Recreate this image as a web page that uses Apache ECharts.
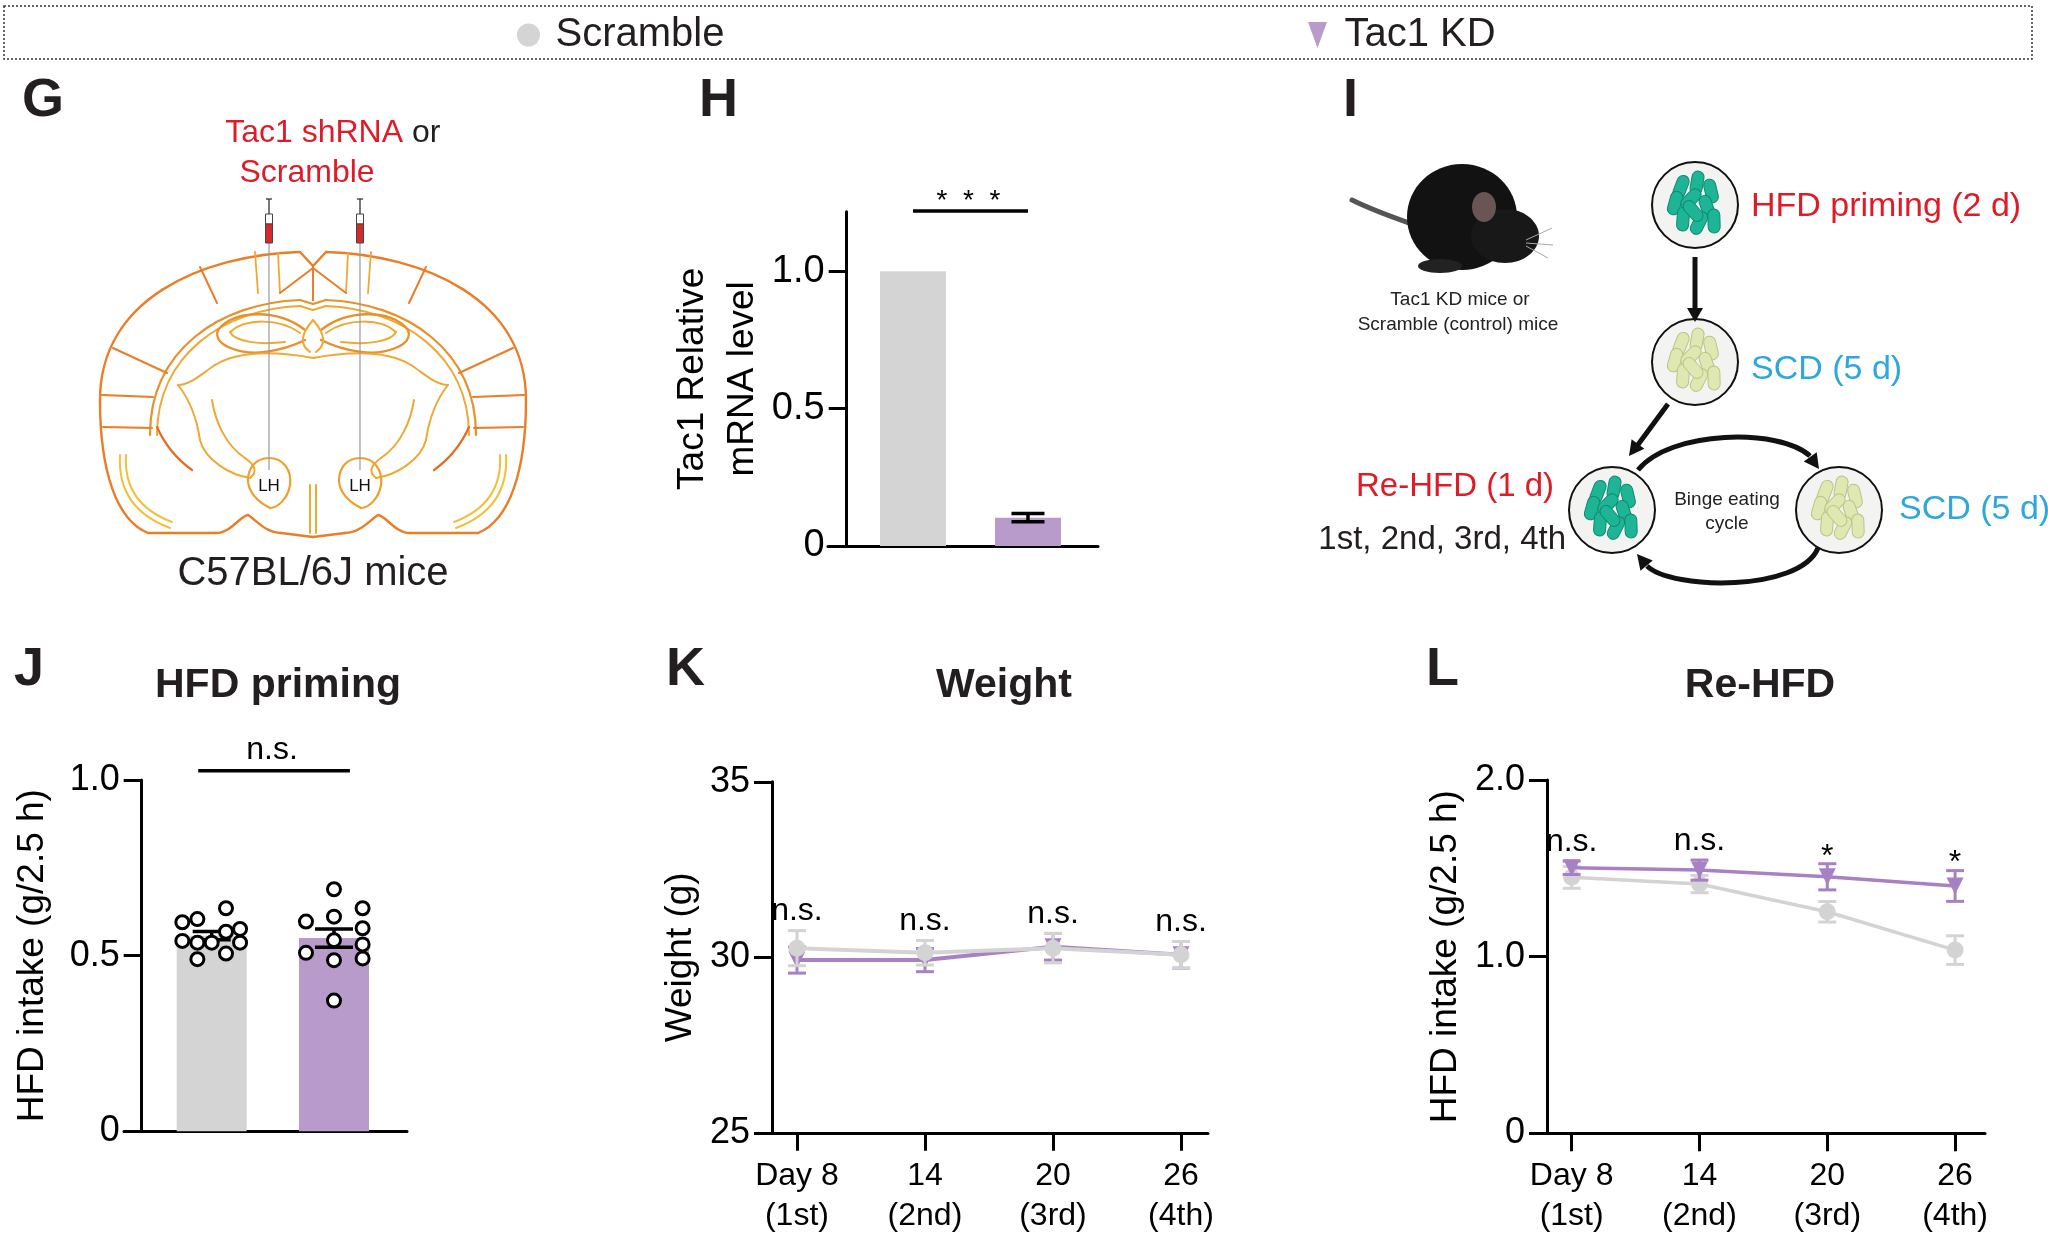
<!DOCTYPE html>
<html>
<head>
<meta charset="utf-8">
<script src="https://cdn.jsdelivr.net/npm/echarts@6/dist/echarts.min.js"></script>
<style>
html,body{margin:0;padding:0;background:#fff;}
#chart{width:2048px;height:1238px;}
</style>
</head>
<body>
<div id="chart"></div>
<script>
// ---------------- DATA ----------------
const groups = ['Scramble', 'Tac1 KD'];

// Panel H: Tac1 relative mRNA level
const hMean = [1.0, 0.103];
const hSem = [0, 0.015];
const hTicks = [0, 0.5, 1.0];
const hSig = '*  *  *';

// Panel J: HFD priming intake (g/2.5 h)
const jMean = [0.557, 0.55];
const jSem = [0.012, 0.026];
const jScrambleDots = [0.595, 0.604, 0.635, 0.542, 0.537, 0.537, 0.568, 0.576, 0.537, 0.490, 0.506];
const jScrambleJitter = [-0.24, -0.117, 0.117, -0.24, -0.117, 0, 0.117, 0.232, 0.232, -0.117, 0.117];
const jKDDots = [0.689, 0.597, 0.611, 0.635, 0.578, 0.544, 0.532, 0.508, 0.487, 0.492, 0.372];
const jKDJitter = [0, -0.229, 0, 0.234, 0.234, 0, 0.234, -0.229, 0, 0.234, 0];
const jTicks = [0, 0.5, 1.0];
const jSig = 'n.s.';

// Panels K / L: time course
const dayLabels = ['Day 8\n(1st)', '14\n(2nd)', '20\n(3rd)', '26\n(4th)'];
const kScramble = [30.26, 30.13, 30.26, 30.07];
const kScrambleSem = [0.5, 0.35, 0.42, 0.38];
const kKD = [29.92, 29.92, 30.30, 30.07];
const kKDSem = [0.37, 0.33, 0.38, 0.38];
const kTicks = [25, 30, 35];
const kSig = ['n.s.', 'n.s.', 'n.s.', 'n.s.'];

const lScramble = [1.449, 1.411, 1.254, 1.037];
const lScrambleSem = [0.062, 0.049, 0.058, 0.081];
const lKD = [1.503, 1.49, 1.452, 1.40];
const lKDSem = [0.038, 0.057, 0.074, 0.087];
const lTicks = [0, 1.0, 2.0];
const lSig = ['n.s.', 'n.s.', '*', '*'];

// ---------------- STYLE ----------------
const FONT = "'Liberation Sans', Arial, Helvetica, sans-serif";
const C_GRAY = '#d4d4d4';
const C_PURPLE = '#b89bcb';
const C_GRAY_LINE = '#d3d3d3';
const C_PURPLE_LINE = '#a880c4';
const C_TEXT = '#231f20';
const C_RED = '#de1c28';
const C_BLUE = '#2ea7dc';

const chart = echarts.init(document.getElementById('chart'), null, {renderer: 'canvas', width: 2048, height: 1238});

function fmt1(v) { return v === 0 ? '0' : v.toFixed(1); }
function fmtInt(v) { return String(v); }

function makeY(gi, min, max, ticks, fmt, name, nameGap, offset, fontSize, nameLH) {
  return {
    type: 'value', gridIndex: gi, min: min, max: max, offset: offset,
    axisLine: {show: true, onZero: false, lineStyle: {color: '#000', width: 3}},
    axisTick: {show: true, length: 18, customValues: ticks, lineStyle: {color: '#000', width: 3}},
    axisLabel: {customValues: ticks, formatter: fmt, fontSize: fontSize, color: '#000', fontFamily: FONT, margin: 22},
    splitLine: {show: false},
    name: name, nameLocation: 'middle', nameGap: nameGap,
    nameTextStyle: {fontSize: 37, color: '#000', fontFamily: FONT, lineHeight: nameLH}
  };
}
function makeX(gi, min, max, withTicks) {
  return {
    type: 'value', gridIndex: gi, min: min, max: max,
    axisLine: {show: true, onZero: false, lineStyle: {color: '#000', width: 3}},
    axisTick: withTicks ? {show: true, length: 18, customValues: [0, 1, 2, 3], lineStyle: {color: '#000', width: 3}} : {show: false},
    axisLabel: withTicks ? {customValues: [0, 1, 2, 3], formatter: function (v) { return dayLabels[Math.round(v)]; },
      fontSize: 32, lineHeight: 40, color: '#000', fontFamily: FONT, margin: 23} : {show: false},
    splitLine: {show: false}
  };
}

function errorBars(cap, lw, color) {
  return function (params, api) {
    const x = api.value(0), m = api.value(1), s = api.value(2);
    const p1 = api.coord([x, m + s]), p2 = api.coord([x, m - s]);
    const st = {stroke: color, lineWidth: lw};
    return {type: 'group', children: [
      {type: 'line', shape: {x1: p1[0], y1: p1[1], x2: p2[0], y2: p2[1]}, style: st},
      {type: 'line', shape: {x1: p1[0] - cap / 2, y1: p1[1], x2: p1[0] + cap / 2, y2: p1[1]}, style: st},
      {type: 'line', shape: {x1: p2[0] - cap / 2, y1: p2[1], x2: p2[0] + cap / 2, y2: p2[1]}, style: st}
    ]};
  };
}
function sigLabels(texts) {
  return function (params, api) {
    const p = api.coord([api.value(0), api.value(1)]);
    const t = texts[params.dataIndex];
    const star = t.indexOf('n') < 0;
    return {type: 'text', x: p[0], y: p[1] + (star ? 9 : -3),
      style: {text: t, fill: '#000', font: '32px ' + FONT, align: 'center', verticalAlign: 'bottom',
        textAlign: 'center', textVerticalAlign: 'bottom'}};
  };
}
function sigBracket(texts, fontSize, textGap) {
  return function (params, api) {
    const a = api.coord([api.value(0), api.value(2)]);
    const b = api.coord([api.value(1), api.value(2)]);
    return {type: 'group', children: [
      {type: 'line', shape: {x1: a[0], y1: a[1], x2: b[0], y2: a[1]}, style: {stroke: '#000', lineWidth: 3.5}},
      {type: 'text', x: (a[0] + b[0]) / 2 - 2, y: a[1] - textGap,
        style: {text: texts[params.dataIndex], fill: '#000', font: fontSize + 'px ' + FONT,
          align: 'center', verticalAlign: 'bottom', textAlign: 'center', textVerticalAlign: 'bottom'}}
    ]};
  };
}

// ---------------- GRAPHICS (diagram panels) ----------------
function txt(x, y, text, font, fill, align, vAlign) {
  return {type: 'text', x: x, y: y, silent: true, z: 20,
    style: {text: text, font: font, fill: fill || C_TEXT, align: align || 'center', verticalAlign: vAlign || 'middle',
      textAlign: align || 'center', textVerticalAlign: vAlign || 'middle'}};
}
// tiny path-string -> line / bezierCurve elements (graphic component has no 'path' element)
function pth(d, stroke, w) {
  const toks = d.match(/[MLCZ]|-?\d+(?:\.\d+)?/g);
  const st = {stroke: stroke, lineWidth: w || 2.2, fill: 'none', lineCap: 'round'};
  const kids = [];
  let i = 0, cx = 0, cy = 0, sx = 0, sy = 0, cmd = null;
  while (i < toks.length) {
    const t = toks[i];
    if (/^[MLCZ]$/.test(t)) {
      cmd = t; i++;
      if (cmd === 'Z') { kids.push({type: 'line', silent: true, shape: {x1: cx, y1: cy, x2: sx, y2: sy}, style: st}); cx = sx; cy = sy; }
      continue;
    }
    if (cmd === 'M') { cx = +toks[i]; cy = +toks[i + 1]; sx = cx; sy = cy; i += 2; cmd = 'L'; }
    else if (cmd === 'L') {
      const x = +toks[i], y = +toks[i + 1];
      kids.push({type: 'line', silent: true, shape: {x1: cx, y1: cy, x2: x, y2: y}, style: st});
      cx = x; cy = y; i += 2;
    } else if (cmd === 'C') {
      const v = toks.slice(i, i + 6).map(Number);
      kids.push({type: 'bezierCurve', silent: true, shape: {x1: cx, y1: cy, cpx1: v[0], cpy1: v[1], cpx2: v[2], cpy2: v[3], x2: v[4], y2: v[5]}, style: st});
      cx = v[4]; cy = v[5]; i += 6;
    } else { i++; }
  }
  return {type: 'group', silent: true, children: kids};
}
function brainHalf() {
  const outer = '#eb7d26', inner = '#efa833', deep = '#e8902a';
  return [
    pth('M313,266 L300,252 C200,255 100,300 100,400 C100,470 116,520 148,533 L216,533 C231,533 241,515 248,515 C256,520 266,533 281,533 L313,537', outer, 2.4),
    pth('M313,304 L300,300 C220,303 150,350 150,435', deep, 2.2),
    pth('M313,310 L300,306 C224,309 157,355 157,435', inner, 2),
    pth('M200,267 L217,303', outer, 2), pth('M113,348 L167,373', outer, 2),
    pth('M102,395 L153,397', outer, 2), pth('M103,427 L152,428', outer, 2),
    pth('M255,252 L258,293', inner, 1.8), pth('M278,253 L280,293', inner, 1.8),
    pth('M280,293 L313,268 L313,300', outer, 2),
    pth('M305,330 C280,310 235,308 218,330 C212,345 240,355 265,352 C280,350 295,345 305,340', deep, 2.4),
    pth('M300,333 C280,318 245,318 230,332 C235,342 260,345 285,342', inner, 2),
    pth('M313,320 C300,335 300,345 310,352', inner, 2),
    pth('M313,358 C280,352 240,350 215,365 C200,375 190,385 178,385', inner, 2),
    pth('M178,385 C190,400 197,420 200,440 C205,460 230,475 250,478 C258,472 255,465 245,458 C225,445 215,420 212,400', inner, 2),
    pth('M120,455 C118,490 135,515 170,528', '#f0c03a', 2), pth('M126,455 C124,488 140,510 172,522', '#f0c03a', 2),
    pth('M157,427 C165,445 178,460 192,470', '#e86a1e', 2.2),
    pth('M310,485 L310,533', inner, 2)
  ];
}
function lhShape(cx) {
  const d = 'M' + cx + ',458 C' + (cx + 14) + ',458 ' + (cx + 23) + ',470 ' + (cx + 21) + ',485 C' + (cx + 19) + ',498 ' + (cx + 9) + ',508 ' + (cx + 1) + ',508 C' + (cx - 11) + ',502 ' + (cx - 21) + ',492 ' + (cx - 21) + ',480 C' + (cx - 21) + ',468 ' + (cx - 13) + ',458 ' + cx + ',458';
  return pth(d, '#eca030', 2.2);
}
function needle(x) {
  return [
    {type: 'line', silent: true, shape: {x1: x, y1: 243, x2: x, y2: 470}, style: {stroke: '#9a9a9a', lineWidth: 1.2}},
    {type: 'rect', silent: true, shape: {x: x - 3.5, y: 214, width: 7, height: 10}, style: {fill: '#fff', stroke: '#444', lineWidth: 1}},
    {type: 'rect', silent: true, shape: {x: x - 3.5, y: 224, width: 7, height: 19}, style: {fill: '#d42a2e', stroke: '#444', lineWidth: 1}},
    {type: 'line', silent: true, shape: {x1: x, y1: 199, x2: x, y2: 214}, style: {stroke: '#333', lineWidth: 1.3}},
    {type: 'line', silent: true, shape: {x1: x - 3, y1: 199, x2: x + 3, y2: 199}, style: {stroke: '#333', lineWidth: 1.3}}
  ];
}
const pelletLayout = [[-14, -18, 1.2], [2, -22, 1.4], [16, -14, 1.8], [-20, -2, 1.3], [-4, -6, 0.8], [12, 2, 1.9], [-12, 14, 1.5], [4, 18, 1.1], [19, 16, 1.6], [-2, 6, 2.3]];
function plate(cx, cy, color, edge) {
  const kids = [{type: 'circle', silent: true, shape: {cx: 0, cy: 0, r: 43}, style: {fill: '#f3f3f1', stroke: '#111', lineWidth: 2}}];
  pelletLayout.forEach(function (p) {
    kids.push({type: 'rect', silent: true, x: p[0], y: p[1], rotation: p[2],
      shape: {x: -12, y: -6, width: 24, height: 12, r: 6}, style: {fill: color, stroke: edge, lineWidth: 1}});
  });
  return {type: 'group', x: cx, y: cy, children: kids};
}
function arrowHead(tx, ty, fx, fy, len, wid) {
  const dx = tx - fx, dy = ty - fy, d = Math.hypot(dx, dy);
  const ux = dx / d, uy = dy / d;
  const bx = tx - ux * len, by = ty - uy * len;
  return {type: 'polygon', silent: true, shape: {points: [[tx, ty], [bx - uy * wid / 2, by + ux * wid / 2], [bx + uy * wid / 2, by - ux * wid / 2]]}, style: {fill: '#111'}};
}

const BOLD_L = 'bold 54px ' + FONT;
const BOLD_T = 'bold 41px ' + FONT;

const graphics = [
  {type: 'rect', silent: true, shape: {x: 4, y: 6, width: 2028, height: 53}, style: {fill: 'none', stroke: '#333', lineWidth: 1.5, lineDash: [2, 2]}},
  txt(22, 101, 'G', BOLD_L, C_TEXT, 'left'), txt(699, 101, 'H', BOLD_L, C_TEXT, 'left'), txt(1343, 101, 'I', BOLD_L, C_TEXT, 'left'),
  txt(14, 670, 'J', BOLD_L, C_TEXT, 'left'), txt(666, 670, 'K', BOLD_L, C_TEXT, 'left'), txt(1426, 670, 'L', BOLD_L, C_TEXT, 'left'),
  txt(278, 686, 'HFD priming', BOLD_T), txt(1004, 686, 'Weight', BOLD_T), txt(1760, 686, 'Re-HFD', BOLD_T),
  {type: 'group', silent: true, children: brainHalf()},
  {type: 'group', silent: true, x: 626, scaleX: -1, children: brainHalf()},
  lhShape(269), lhShape(360)
].concat(needle(269), needle(360), [
  txt(269, 486, 'LH', '17px ' + FONT, '#111'), txt(360, 486, 'LH', '17px ' + FONT, '#111'),
  txt(403, 133, 'Tac1 shRNA', '32px ' + FONT, C_RED, 'right'),
  txt(412, 133, 'or', '32px ' + FONT, C_TEXT, 'left'),
  txt(307, 173, 'Scramble', '32px ' + FONT, C_RED),
  txt(313, 574, 'C57BL/6J mice', '40px ' + FONT, C_TEXT),
  // mouse
  pth('M1412,224 C1395,218 1372,210 1352,200', '#555', 5),
  {type: 'ellipse', silent: true, shape: {cx: 1462, cy: 217, rx: 55, ry: 53}, style: {fill: '#121212'}},
  {type: 'ellipse', silent: true, shape: {cx: 1505, cy: 236, rx: 34, ry: 27}, style: {fill: '#181818'}},
  {type: 'ellipse', silent: true, shape: {cx: 1484, cy: 207, rx: 12, ry: 15}, style: {fill: '#6a5555'}},
  {type: 'ellipse', silent: true, shape: {cx: 1440, cy: 266, rx: 22, ry: 7}, style: {fill: '#222'}},
  {type: 'line', silent: true, shape: {x1: 1526, y1: 240, x2: 1552, y2: 228}, style: {stroke: '#aaa', lineWidth: 1}},
  {type: 'line', silent: true, shape: {x1: 1526, y1: 243, x2: 1553, y2: 245}, style: {stroke: '#aaa', lineWidth: 1}},
  {type: 'line', silent: true, shape: {x1: 1526, y1: 246, x2: 1548, y2: 258}, style: {stroke: '#aaa', lineWidth: 1}},
  txt(1460, 300, 'Tac1 KD mice or', '19px ' + FONT, '#222'),
  txt(1458, 325, 'Scramble (control) mice', '19px ' + FONT, '#222'),
  plate(1695, 205, '#1db596', '#0e8a70'),
  plate(1695, 362, '#dfe8b0', '#b8c48a'),
  plate(1612, 510, '#1db596', '#0e8a70'),
  plate(1839, 510, '#dfe8b0', '#b8c48a'),
  {type: 'line', silent: true, shape: {x1: 1695, y1: 257, x2: 1695, y2: 310}, style: {stroke: '#111', lineWidth: 5}},
  arrowHead(1695, 322, 1695, 300, 14, 16),
  {type: 'line', silent: true, shape: {x1: 1668, y1: 404, x2: 1637, y2: 446}, style: {stroke: '#111', lineWidth: 5}},
  arrowHead(1629, 456, 1668, 404, 15, 16),
  {type: 'bezierCurve', silent: true, shape: {x1: 1638, y1: 470, cpx1: 1670, cpy1: 430, cpx2: 1780, cpy2: 428, x2: 1810, y2: 456}, style: {fill: 'none', stroke: '#111', lineWidth: 5}},
  arrowHead(1819, 469, 1806, 451, 15, 16),
  {type: 'bezierCurve', silent: true, shape: {x1: 1818, y1: 548, cpx1: 1800, cpy1: 592, cpx2: 1672, cpy2: 590, x2: 1647, y2: 566}, style: {fill: 'none', stroke: '#111', lineWidth: 5}},
  arrowHead(1637, 554, 1652, 572, 15, 16),
  txt(1751, 207, 'HFD priming (2 d)', '34px ' + FONT, C_RED, 'left'),
  txt(1751, 370, 'SCD (5 d)', '34px ' + FONT, C_BLUE, 'left'),
  txt(1554, 487, 'Re-HFD (1 d)', '33px ' + FONT, C_RED, 'right'),
  txt(1566, 540, '1st, 2nd, 3rd, 4th', '33px ' + FONT, C_TEXT, 'right'),
  txt(1727, 500, 'Binge eating', '19px ' + FONT, '#222'),
  txt(1727, 524, 'cycle', '19px ' + FONT, '#222'),
  txt(1899, 510, 'SCD (5 d)', '34px ' + FONT, C_BLUE, 'left')
]);

// ---------------- OPTION ----------------
const kTop = kScramble.map(function (v, i) { return [i, Math.max(v + kScrambleSem[i], kKD[i] + kKDSem[i])]; });
const lTop = lScramble.map(function (v, i) { return [i, Math.max(v + lScrambleSem[i], lKD[i] + lKDSem[i])]; });

const option = {
  backgroundColor: '#fff',
  animation: false,
  textStyle: {fontFamily: FONT},
  legend: [
    {left: 517, top: 15, padding: 0, selectedMode: false, itemWidth: 44, itemHeight: 23,
      data: [{name: groups[0], icon: 'circle'}], textStyle: {fontSize: 40, color: C_TEXT, fontFamily: FONT}},
    {left: 1308, top: 15, padding: 0, selectedMode: false, itemWidth: 44, itemHeight: 26,
      data: [{name: groups[1], icon: 'path://M0,0L19,0L9.5,26Z'}], textStyle: {fontSize: 40, color: C_TEXT, fontFamily: FONT}}
  ],
  grid: [
    {left: 828, top: 211.7, width: 270, height: 334.3, containLabel: false, outerBoundsMode: 'none'},
    {left: 124, top: 780, width: 283, height: 351.3, containLabel: false, outerBoundsMode: 'none'},
    {left: 772, top: 781.8, width: 436, height: 351, containLabel: false, outerBoundsMode: 'none'},
    {left: 1547, top: 780, width: 438, height: 353.3, containLabel: false, outerBoundsMode: 'none'}
  ],
  xAxis: [
    makeX(0, 0.261, 2.609, false),
    makeX(1, 0.283, 2.597, false),
    makeX(2, -0.195, 3.211, true),
    makeX(3, -0.193, 3.234, true)
  ],
  yAxis: [
    makeY(0, 0, 1.217, hTicks, fmt1, 'Tac1 Relative\nmRNA level', 60, -18.7, 38, 50),
    makeY(1, 0, 1.0, jTicks, fmt1, 'HFD intake (g/2.5 h)', 89, -17.7, 36, 40),
    makeY(2, 25, 35, kTicks, fmtInt, 'Weight (g)', 71, 0, 36, 40),
    makeY(3, 0, 2.0, lTicks, fmt1, 'HFD intake (g/2.5 h)', 81, 0, 36, 40)
  ],
  series: [
    {type: 'bar', name: groups[0], xAxisIndex: 0, yAxisIndex: 0, data: [[1, hMean[0]]], barWidth: 66, barGap: '-100%', itemStyle: {color: C_GRAY}},
    {type: 'bar', name: groups[1], xAxisIndex: 0, yAxisIndex: 0, data: [[2, hMean[1]]], barWidth: 66, barGap: '-100%', itemStyle: {color: C_PURPLE}},
    {type: 'custom', name: 'H sem', xAxisIndex: 0, yAxisIndex: 0, clip: false, z: 3,
      data: hMean.map(function (m, i) { return [i + 1, m, hSem[i]]; }).filter(function (d) { return d[2] > 0; }),
      renderItem: errorBars(33, 3.5, '#000')},
    {type: 'custom', name: 'H sig', xAxisIndex: 0, yAxisIndex: 0, clip: false, z: 3,
      data: [[1, 2, 1.22]], renderItem: sigBracket([hSig], 28, -4)},
    {type: 'bar', name: groups[0], xAxisIndex: 1, yAxisIndex: 1, data: [[1, jMean[0]]], barWidth: 70, barGap: '-100%', itemStyle: {color: C_GRAY}},
    {type: 'bar', name: groups[1], xAxisIndex: 1, yAxisIndex: 1, data: [[2, jMean[1]]], barWidth: 70, barGap: '-100%', itemStyle: {color: C_PURPLE}},
    {type: 'custom', name: 'J sem', xAxisIndex: 1, yAxisIndex: 1, clip: false, z: 3,
      data: jMean.map(function (m, i) { return [i + 1, m, jSem[i]]; }), renderItem: errorBars(38, 3.5, '#000')},
    {type: 'scatter', name: 'Scramble mice', xAxisIndex: 1, yAxisIndex: 1, z: 4, symbol: 'circle', symbolSize: 13,
      data: jScrambleDots.map(function (v, i) { return [1 + jScrambleJitter[i], v]; }),
      itemStyle: {color: '#fff', borderColor: '#000', borderWidth: 3, opacity: 1}},
    {type: 'scatter', name: 'Tac1 KD mice', xAxisIndex: 1, yAxisIndex: 1, z: 4, symbol: 'circle', symbolSize: 13,
      data: jKDDots.map(function (v, i) { return [2 + jKDJitter[i], v]; }),
      itemStyle: {color: '#fff', borderColor: '#000', borderWidth: 3, opacity: 1}},
    {type: 'custom', name: 'J sig', xAxisIndex: 1, yAxisIndex: 1, clip: false, z: 3,
      data: [[0.89, 2.13, 1.026]], renderItem: sigBracket([jSig], 32, 5)},
    {type: 'custom', name: 'K KD sem', xAxisIndex: 2, yAxisIndex: 2, clip: false, z: 2,
      data: kKD.map(function (v, i) { return [i, v, kKDSem[i]]; }), renderItem: errorBars(18, 3, C_PURPLE_LINE)},
    {type: 'line', name: groups[1], xAxisIndex: 2, yAxisIndex: 2, z: 3, symbol: 'triangle', symbolRotate: 180, symbolSize: 17,
      data: kKD.map(function (v, i) { return [i, v]; }),
      lineStyle: {color: C_PURPLE_LINE, width: 4}, itemStyle: {color: C_PURPLE_LINE}},
    {type: 'custom', name: 'K Scr sem', xAxisIndex: 2, yAxisIndex: 2, clip: false, z: 4,
      data: kScramble.map(function (v, i) { return [i, v, kScrambleSem[i]]; }), renderItem: errorBars(18, 3, C_GRAY_LINE)},
    {type: 'line', name: groups[0], xAxisIndex: 2, yAxisIndex: 2, z: 5, symbol: 'circle', symbolSize: 17,
      data: kScramble.map(function (v, i) { return [i, v]; }),
      lineStyle: {color: C_GRAY_LINE, width: 4}, itemStyle: {color: C_GRAY_LINE}},
    {type: 'custom', name: 'K sig', xAxisIndex: 2, yAxisIndex: 2, clip: false, z: 6, data: kTop, renderItem: sigLabels(kSig)},
    {type: 'custom', name: 'L Scr sem', xAxisIndex: 3, yAxisIndex: 3, clip: false, z: 2,
      data: lScramble.map(function (v, i) { return [i, v, lScrambleSem[i]]; }), renderItem: errorBars(18, 3, C_GRAY_LINE)},
    {type: 'line', name: groups[0], xAxisIndex: 3, yAxisIndex: 3, z: 3, symbol: 'circle', symbolSize: 17,
      data: lScramble.map(function (v, i) { return [i, v]; }),
      lineStyle: {color: C_GRAY_LINE, width: 3.5}, itemStyle: {color: C_GRAY_LINE}},
    {type: 'custom', name: 'L KD sem', xAxisIndex: 3, yAxisIndex: 3, clip: false, z: 4,
      data: lKD.map(function (v, i) { return [i, v, lKDSem[i]]; }), renderItem: errorBars(18, 3, C_PURPLE_LINE)},
    {type: 'line', name: groups[1], xAxisIndex: 3, yAxisIndex: 3, z: 5, symbol: 'triangle', symbolRotate: 180, symbolSize: 17,
      data: lKD.map(function (v, i) { return [i, v]; }),
      lineStyle: {color: C_PURPLE_LINE, width: 3.5}, itemStyle: {color: C_PURPLE_LINE}},
    {type: 'custom', name: 'L sig', xAxisIndex: 3, yAxisIndex: 3, clip: false, z: 6, data: lTop, renderItem: sigLabels(lSig)}
  ],
  graphic: graphics
};
chart.setOption(option);
</script>
</body>
</html>
